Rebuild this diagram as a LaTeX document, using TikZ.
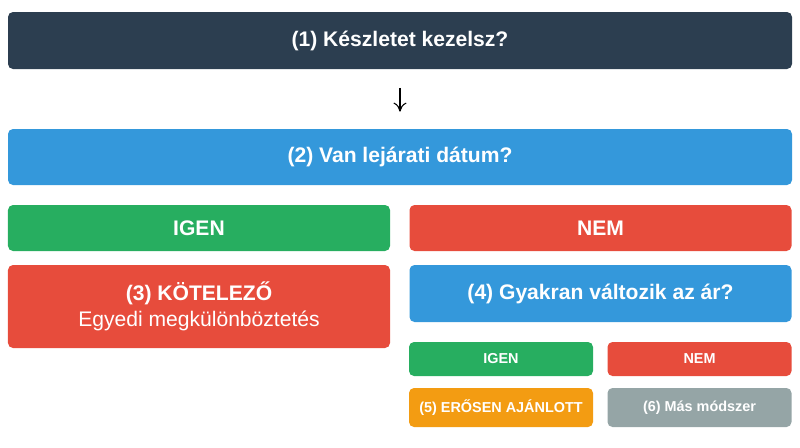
\documentclass[tikz,border=0pt]{standalone}
\usepackage{fontspec}
\setmainfont{Liberation Sans}
\usetikzlibrary{arrows.meta}
\definecolor{darkq}{HTML}{2C3E50}
\definecolor{blueq}{HTML}{3498DB}
\definecolor{greenq}{HTML}{27AE60}
\definecolor{redq}{HTML}{E74C3C}
\definecolor{orangeq}{HTML}{F39C12}
\definecolor{grayq}{HTML}{95A5A6}
\begin{document}
\begin{tikzpicture}[
  box/.style={rectangle,rounded corners=0.1cm,inner sep=0pt,align=center,text=white,font=\fontsize{12}{14.5}\selectfont\bfseries},
  wide/.style={box,minimum width=15.68cm,minimum height=1.14cm},
  half/.style={box,minimum width=7.64cm},
  small/.style={box,minimum width=3.68cm,font=\fontsize{8.2}{10}\selectfont\bfseries}
]
\useasboundingbox (0,0) rectangle (16,-8.94);

\node[wide,fill=darkq] (q1) at (8,-0.81) {(1) Készletet kezelsz?};
\node[wide,fill=blueq,minimum height=1.12cm] (q2) at (8,-3.14) {(2) Van lejárati dátum?};

\node[half,fill=greenq,minimum height=0.92cm] (igen) at (3.98,-4.56) {IGEN};
\node[half,fill=redq,minimum height=0.92cm] (nem) at (12.01,-4.56) {NEM};

\node[half,fill=redq,minimum height=1.66cm] (q3) at (3.98,-6.13) {(3) KÖTELEZŐ\\[0.5pt]{\mdseries Egyedi megkülönböztetés}};
\node[half,fill=blueq,minimum height=1.14cm] (q4) at (12.01,-5.87) {(4) Gyakran változik az ár?};

\node[small,fill=greenq,minimum height=0.68cm] (igen2) at (10.02,-7.18) {IGEN};
\node[small,fill=redq,minimum height=0.68cm] (nem2) at (13.99,-7.18) {NEM};
\node[small,fill=orangeq,minimum height=0.78cm] (q5) at (10.02,-8.15) {(5) ERŐSEN AJÁNLOTT};
\node[small,fill=grayq,minimum height=0.78cm] (q6) at (13.99,-8.15) {(6) Más módszer};

\draw[-{To[length=1.8mm,width=2.6mm]},line width=0.6pt,shorten <=0.37cm,shorten >=0.34cm] (q1) -- (q2);
\end{tikzpicture}
\end{document}
